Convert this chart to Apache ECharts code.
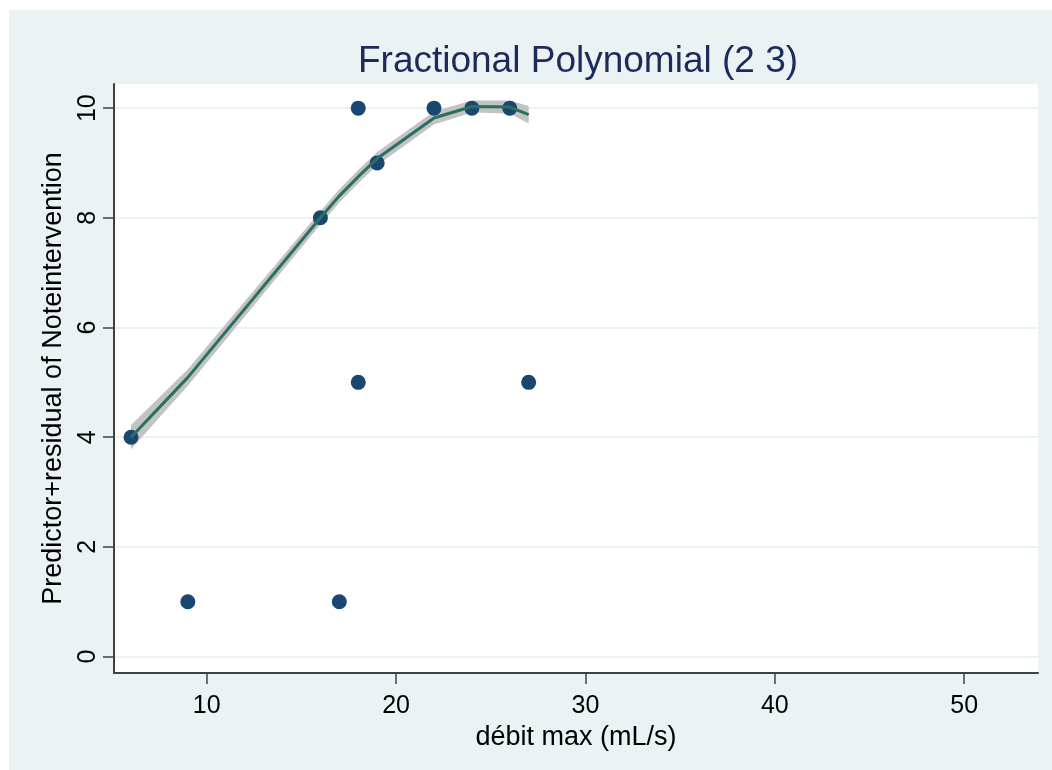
<!DOCTYPE html>
<html>
<head>
<meta charset="utf-8">
<script src="https://cdn.jsdelivr.net/npm/echarts@6/dist/echarts.min.js"></script>
<style>
  html, body { margin: 0; background: #fff; }
  #chart { position: absolute; left: 9px; top: 10px; width: 1043px; height: 760px; }
</style>
</head>
<body>
<div id="chart"></div>
<script>
// observed points (débit max, predictor+residual)
const obsX = [6, 9, 16, 17, 18, 18, 19, 22, 24, 26, 27]
const obsY = [4, 1, 8, 1, 10, 5, 9, 10, 10, 10, 5]

// fitted FP(2 3) curve and its confidence band
const fitX = [6, 9, 16, 17, 18, 19, 22, 24, 26, 27]
const fitY = [4.0, 5.09, 8.0, 8.4, 8.75, 9.08, 9.82, 10.03, 10.02, 9.88]
const ciLo = [3.78, 4.94, 7.88, 8.28, 8.63, 8.96, 9.70, 9.92, 9.90, 9.72]
const ciHi = [4.22, 5.24, 8.12, 8.52, 8.87, 9.20, 9.94, 10.14, 10.14, 10.04]

const xTicks = [10, 20, 30, 40, 50]
const yTicks = [0, 2, 4, 6, 8, 10]

const FONT = '"Liberation Sans", Arial, sans-serif'
const AXIS_COLOR = '#404040'

const chart = echarts.init(document.getElementById('chart'))

const bandPolygon = (params, api) => {
  const pts = []
  fitX.forEach((x, i) => pts.push(api.coord([x, ciHi[i]])))
  for (let i = fitX.length - 1; i >= 0; i--) pts.push(api.coord([fitX[i], ciLo[i]]))
  return {
    type: 'polygon',
    shape: { points: pts },
    style: { fill: '#c3c3c3' }
  }
}

const option = {
  backgroundColor: '#eaf2f3',
  animation: false,
  title: {
    text: 'Fractional Polynomial (2 3)',
    left: 564,
    top: 28,
    textAlign: 'center',
    textStyle: { fontFamily: FONT, fontSize: 37, fontWeight: 'normal', color: '#1c2b5a' }
  },
  grid: {
    left: 105,
    right: 14,
    top: 74,
    bottom: 97,
    show: true,
    backgroundColor: '#ffffff',
    borderWidth: 0
  },
  xAxis: {
    type: 'value',
    min: 5.1,
    max: 53.9,
    name: 'débit max (mL/s)',
    nameLocation: 'middle',
    nameGap: 46,
    nameTextStyle: { fontFamily: FONT, fontSize: 27, color: '#000' },
    axisLine: { onZero: false, lineStyle: { color: AXIS_COLOR, width: 2 } },
    axisTick: { customValues: xTicks, length: 11, lineStyle: { color: AXIS_COLOR, width: 1.5 } },
    axisLabel: { customValues: xTicks, margin: 21, fontFamily: FONT, fontSize: 25, color: '#000' },
    splitLine: { show: false }
  },
  yAxis: {
    type: 'value',
    min: -0.3,
    max: 10.44,
    name: 'Predictor+residual of Noteintervention',
    nameLocation: 'middle',
    nameGap: 47,
    nameRotate: 90,
    nameTextStyle: { fontFamily: FONT, fontSize: 27, color: '#000' },
    axisLine: { show: true, onZero: false, lineStyle: { color: AXIS_COLOR, width: 2 } },
    axisTick: { show: true, customValues: yTicks, length: 11, lineStyle: { color: AXIS_COLOR, width: 1.5 } },
    axisLabel: { customValues: yTicks, rotate: 90, margin: 13, fontFamily: FONT, fontSize: 25, color: '#000' },
    splitLine: { show: true, lineStyle: { color: '#eaf2f3', width: 2 } }
  },
  series: [
    {
      name: '95% CI',
      type: 'custom',
      data: [[fitX[0], ciLo[0]]],
      renderItem: bandPolygon,
      silent: true,
      z: 1
    },
    {
      name: 'observed',
      type: 'scatter',
      data: obsX.map((x, i) => [x, obsY[i]]),
      symbol: 'circle',
      symbolSize: 15,
      itemStyle: { color: '#1a476f', opacity: 1 },
      z: 2
    },
    {
      name: 'fitted',
      type: 'line',
      data: fitX.map((x, i) => [x, fitY[i]]),
      showSymbol: false,
      lineStyle: { color: '#2a6f61', width: 3 },
      z: 3
    }
  ]
}

chart.setOption(option)
</script>
</body>
</html>
